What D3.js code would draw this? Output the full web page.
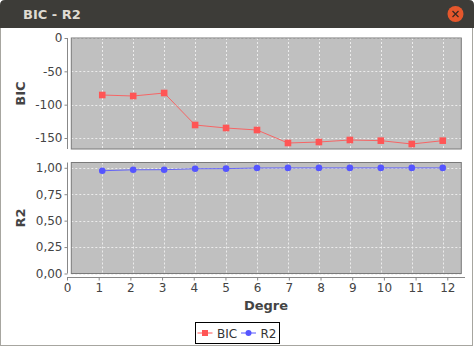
<!DOCTYPE html>
<html>
<head>
<meta charset="utf-8">
<script src="https://cdn.jsdelivr.net/npm/d3@7"></script>
<style>
  html, body { margin: 0; padding: 0; background: #fff; }
  svg { display: block; }
</style>
</head>
<body>
<div id="chart"></div>
<script>
var width = 474,
    height = 347;

// datos
var degree = [1, 2, 3, 4, 5, 6, 7, 8, 9, 10, 11, 12];
var bic = [-85.5, -87, -82.5, -130.5, -135, -138, -157.5, -156, -153, -154, -159, -154];
var r2 = [0.972, 0.981, 0.982, 0.991, 0.992, 0.998, 0.999, 0.999, 0.999, 0.999, 0.999, 0.999];
var xTicks = [0, 1, 2, 3, 4, 5, 6, 7, 8, 9, 10, 11, 12];
var bicTicks = [0, -50, -100, -150];
var r2Ticks = [0, 0.25, 0.5, 0.75, 1];
var seriesNames = ["BIC", "R2"];

var colors = { BIC: "#ff5555", R2: "#5555ff" };

var locale = d3.formatLocale({ decimal: ",", thousands: ".", grouping: [3], currency: ["", ""], minus: "-" });
var fmt2 = locale.format(".2f");
var fmtInt = locale.format("d");

var svg = d3.select("#chart").append("svg")
    .attr("width", width)
    .attr("height", height)
    .style("font-family", "'DejaVu Sans', sans-serif");

// ventana
svg.append("rect").attr("x", 0).attr("y", 0).attr("width", width).attr("height", height).attr("fill", "#fff");
svg.append("path")
    .attr("d", "M0,28 L0,5 Q0,0 5,0 L469,0 Q474,0 474,5 L474,28 Z")
    .attr("fill", "#3d3c38");
svg.append("text").attr("x", 23).attr("y", 19)
    .attr("fill", "#dfdbd2").attr("font-weight", "bold").attr("font-size", 13)
    .text("BIC - R2");
svg.append("circle").attr("cx", 455.5).attr("cy", 14).attr("r", 8).attr("fill", "#e5572c");
svg.append("path").attr("d", "M452.5,11 L458.5,17 M458.5,11 L452.5,17")
    .attr("stroke", "#3a2a22").attr("stroke-width", 1.3);
svg.append("line").attr("x1", 0.5).attr("x2", 0.5).attr("y1", 28).attr("y2", 346).attr("stroke", "#a7a6a0");
svg.append("line").attr("x1", 472.5).attr("x2", 472.5).attr("y1", 28).attr("y2", 346).attr("stroke", "#a7a6a0");
svg.append("line").attr("x1", 0).attr("x2", 473).attr("y1", 345.5).attr("y2", 345.5).attr("stroke", "#a7a6a0");

// escalas
var xData = d3.scaleLinear().domain([0, 12.6]).range([71.3, 461.3]);
var xAxisScale = d3.scaleLinear().domain([0, 12.6]).range([67, 466.3]);

var plots = [
  { name: "BIC", values: bic, ticks: bicTicks, y: d3.scaleLinear().domain([-166.5, 0]).range([149, 38]), fmt: fmtInt, shape: "square" },
  { name: "R2", values: r2, ticks: r2Ticks, y: d3.scaleLinear().domain([0, 1.05]).range([273.5, 162.5]), fmt: fmt2, shape: "circle" }
];

plots.forEach(function (p) {
  var top = p.y.range()[1], bottom = p.y.range()[0];
  var left = xData.range()[0], right = xData.range()[1];
  var g = svg.append("g");

  g.append("rect")
      .attr("x", left).attr("y", top)
      .attr("width", right - left).attr("height", bottom - top)
      .attr("fill", "#c0c0c0");

  // rejilla
  g.selectAll(".vg").data(degree).enter().append("line")
      .attr("x1", d => Math.round(xData(d)) + 0.5).attr("x2", d => Math.round(xData(d)) + 0.5)
      .attr("y1", top).attr("y2", bottom)
      .attr("stroke", "#ececec").attr("stroke-dasharray", "2,2");
  g.selectAll(".hg").data(p.ticks).enter().append("line")
      .attr("x1", left).attr("x2", right)
      .attr("y1", d => Math.round(p.y(d)) + 0.5).attr("y2", d => Math.round(p.y(d)) + 0.5)
      .attr("stroke", "#ececec").attr("stroke-dasharray", "2,2");

  g.append("rect")
      .attr("x", left).attr("y", top)
      .attr("width", right - left).attr("height", bottom - top)
      .attr("fill", "none").attr("stroke", "#7a7a7a");

  // eje y
  var axis = svg.append("g")
      .attr("transform", "translate(67.5,0)")
      .call(d3.axisLeft(p.y).tickValues(p.ticks).tickFormat(p.fmt).tickSize(3).tickPadding(2));
  axis.select(".domain").attr("stroke", "#888").attr("d", "M-0," + top + "V" + bottom);
  axis.selectAll(".tick line").attr("stroke", "#888");
  axis.selectAll(".tick text").attr("fill", "#444").attr("font-size", 12)
      .attr("font-family", "'DejaVu Sans', sans-serif");

  svg.append("text")
      .attr("transform", "translate(25," + ((top + bottom) / 2) + ") rotate(-90)")
      .attr("text-anchor", "middle")
      .attr("fill", "#444").attr("font-weight", "bold").attr("font-size", 13)
      .text(p.name);

  // serie
  var line = d3.line().x((d, i) => xData(degree[i])).y(d => p.y(d));
  g.append("path").datum(p.values)
      .attr("d", line).attr("fill", "none")
      .attr("stroke", colors[p.name]).attr("stroke-width", 1).attr("stroke-opacity", 0.85);

  if (p.shape === "square") {
    g.selectAll(".pt").data(p.values).enter().append("rect")
        .attr("x", (d, i) => xData(degree[i]) - 3.3).attr("y", d => p.y(d) - 3.3)
        .attr("width", 6.6).attr("height", 6.6)
        .attr("fill", colors[p.name]);
  } else {
    g.selectAll(".pt").data(p.values).enter().append("circle")
        .attr("cx", (d, i) => xData(degree[i])).attr("cy", d => p.y(d))
        .attr("r", 3.3)
        .attr("fill", colors[p.name]);
  }
});

// eje x
var xAxis = svg.append("g")
    .attr("transform", "translate(0,277.5)")
    .call(d3.axisBottom(xAxisScale).tickValues(xTicks).tickFormat(fmtInt).tickSize(3).tickSizeOuter(0).tickPadding(3));
xAxis.select(".domain").attr("stroke", "#888").attr("d", "M67,0H465");
xAxis.selectAll(".tick line").attr("stroke", "#888");
xAxis.selectAll(".tick text").attr("fill", "#444").attr("font-size", 12)
    .attr("font-family", "'DejaVu Sans', sans-serif");

svg.append("text")
    .attr("x", 266).attr("y", 310)
    .attr("text-anchor", "middle")
    .attr("fill", "#444").attr("font-weight", "bold").attr("font-size", 13)
    .text("Degre");

// leyenda
var legend = svg.append("g");
legend.append("rect")
    .attr("x", 195.5).attr("y", 322.5).attr("width", 84).attr("height", 21)
    .attr("fill", "#fff").attr("stroke", "#000");

var itemX = [197.5, 241];
seriesNames.forEach(function (name, i) {
  var x0 = itemX[i];
  legend.append("line")
      .attr("x1", x0).attr("x2", x0 + 15).attr("y1", 333).attr("y2", 333)
      .attr("stroke", colors[name]);
  if (i === 0) {
    legend.append("rect").attr("x", x0 + 4.5).attr("y", 330).attr("width", 6).attr("height", 6).attr("fill", colors[name]);
  } else {
    legend.append("circle").attr("cx", x0 + 7.5).attr("cy", 333).attr("r", 3).attr("fill", colors[name]);
  }
  legend.append("text")
      .attr("x", x0 + 19.5).attr("y", 337.5)
      .attr("fill", "#333").attr("font-size", 12)
      .text(name);
});
</script>
</body>
</html>
